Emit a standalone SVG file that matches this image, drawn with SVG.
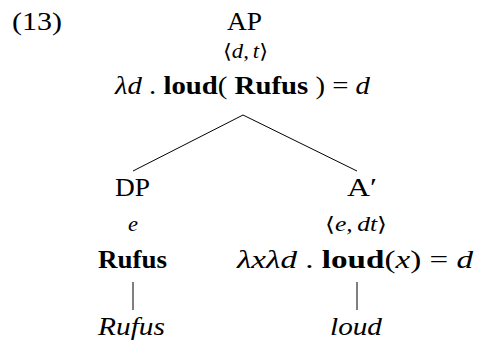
<svg xmlns="http://www.w3.org/2000/svg" width="477" height="344" viewBox="0 0 477 344">
<style>
text{font-family:"Liberation Serif","DejaVu Serif",serif;fill:#000;text-anchor:middle}
.lab{font-size:25px}
.typ{font-size:20px;font-style:italic}
.it{font-style:italic}
.b{font-weight:bold}
.br{font-style:normal}
line{stroke:#000;stroke-width:1}
</style>
<rect width="477" height="344" fill="#fff"/>
<text class="lab" x="37" y="30" textLength="50" lengthAdjust="spacingAndGlyphs">(13)</text>
<g id="AP">
<text class="lab" x="244.5" y="30" textLength="35" lengthAdjust="spacingAndGlyphs">AP</text>
<text class="typ" x="245.5" y="58" textLength="45" lengthAdjust="spacingAndGlyphs"><tspan class="br">⟨</tspan>d,<tspan font-size="14"> </tspan>t<tspan class="br">⟩</tspan></text>
<text class="lab" x="242.5" y="94" textLength="255" lengthAdjust="spacingAndGlyphs"><tspan class="it">λd</tspan> . <tspan class="b">loud</tspan>( <tspan class="b">Rufus</tspan> ) = <tspan class="it">d</tspan></text>
</g>
<g id="DP">
<text class="lab" x="132.5" y="196" textLength="35" lengthAdjust="spacingAndGlyphs">DP</text>
<text class="typ" x="133" y="231" textLength="10" lengthAdjust="spacingAndGlyphs">e</text>
<text class="lab b" x="132.5" y="268" textLength="69" lengthAdjust="spacingAndGlyphs">Rufus</text>
</g>
<g id="Abar">
<text class="lab" x="362" y="196" textLength="30" lengthAdjust="spacingAndGlyphs">A′</text>
<text class="typ" x="356" y="231" textLength="62" lengthAdjust="spacingAndGlyphs"><tspan class="br">⟨</tspan>e,<tspan font-size="14"> </tspan>dt<tspan class="br">⟩</tspan></text>
<text class="lab" x="355" y="268" textLength="236" lengthAdjust="spacingAndGlyphs"><tspan class="it">λxλd</tspan> . <tspan class="b">loud</tspan>(<tspan class="it">x</tspan>) = <tspan class="it">d</tspan></text>
</g>
<g id="leaf-Rufus">
<text class="lab it" x="131.5" y="335" textLength="67" lengthAdjust="spacingAndGlyphs">Rufus</text>
</g>
<g id="leaf-loud">
<text class="lab it" x="356" y="335" textLength="52" lengthAdjust="spacingAndGlyphs">loud</text>
</g>
<g id="connectors">
<line x1="243" y1="115" x2="133" y2="171"/>
<line x1="243" y1="115" x2="357" y2="171"/>
<line x1="133" y1="282" x2="133" y2="310"/>
<line x1="357" y1="282" x2="357" y2="310"/>
</g>
</svg>
